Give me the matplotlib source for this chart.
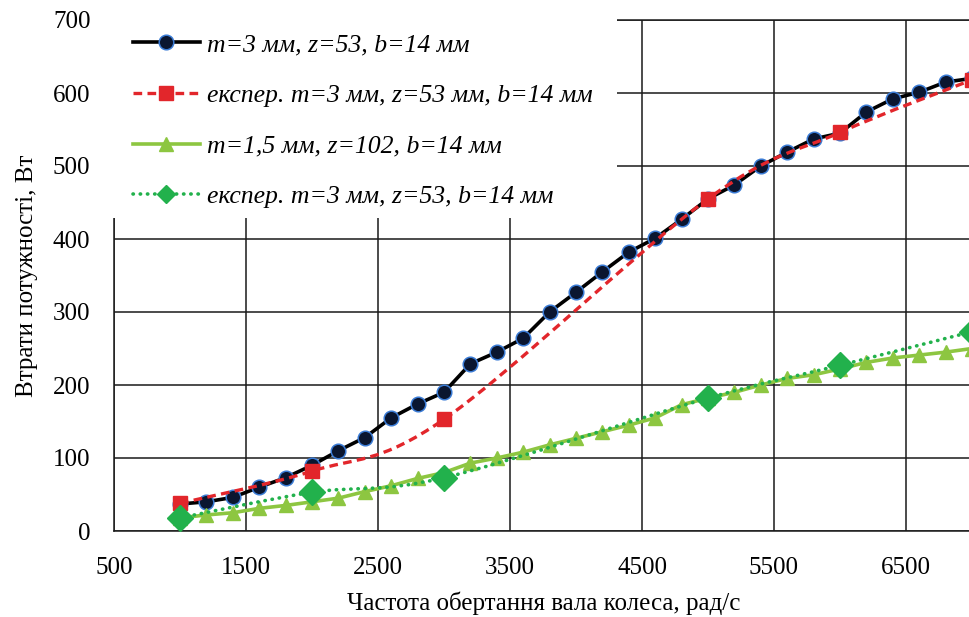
import matplotlib.pyplot as plt
import numpy as np
from matplotlib.path import Path
from matplotlib.patches import PathPatch, Rectangle
from matplotlib.lines import Line2D

plt.rcParams['font.family'] = ['Liberation Serif', 'DejaVu Serif']

# розрахунок, m=3 мм, z=53
calc_x = [1000, 1200, 1400, 1600, 1800, 2000, 2200, 2400, 2600, 2800, 3000,
          3200, 3400, 3600, 3800, 4000, 4200, 4400, 4600, 4800, 5000,
          5200, 5400, 5600, 5800, 6000, 6200, 6400, 6600, 6800, 7000]
calc_m3 = [37, 40, 46, 60, 73, 90, 110, 128, 155, 174, 190,
           229, 245, 264, 300, 327, 355, 382, 401, 427, 455,
           474, 500, 519, 537, 545, 574, 592, 601, 615, 620]
# розрахунок, m=1,5 мм, z=102
calc_m15 = [18, 22, 25, 31, 35, 40, 45, 54, 62, 72, 80,
            93, 100, 108, 118, 127, 136, 145, 155, 173, 182,
            190, 200, 209, 214, 222, 231, 237, 241, 245, 250]

# експеримент
exp_x = [1000, 2000, 3000, 5000, 6000, 7000]
exp_red = [38, 82, 153, 455, 546, 618]
exp_green = [18, 53, 73, 182, 227, 273]

labels = ['m=3 мм, z=53, b=14 мм',
          'експер. m=3 мм, z=53 мм, b=14 мм',
          'm=1,5 мм, z=102, b=14 мм',
          'експер. m=3 мм, z=53, b=14 мм']

RED = '#e2262b'
LIGHT_GREEN = '#8dc641'
GREEN = '#22b14c'


def smooth_path(xs, ys):
    # згладжена лінія як в Excel (кубічні криві Безьє)
    pts = np.column_stack([xs, ys]).astype(float)
    n = len(pts)
    verts = [pts[0]]
    codes = [Path.MOVETO]
    for i in range(n - 1):
        p0 = pts[max(i - 1, 0)]
        p1, p2 = pts[i], pts[i + 1]
        p3 = pts[min(i + 2, n - 1)]
        verts += [p1 + (p2 - p0) / 6, p2 - (p3 - p1) / 6, p2]
        codes += [Path.CURVE4] * 3
    return Path(verts, codes)


fig = plt.figure(figsize=(9.69, 6.17), dpi=100)
ax = fig.add_axes([114 / 969, 86 / 617, 924 / 969, 511 / 617])

ax.plot(calc_x, calc_m3, color='black', lw=2.6, marker='o', ms=10.5,
        mfc='#0a1630', mec='#3a7bd5', mew=1.1, zorder=3)

ax.add_patch(PathPatch(smooth_path(exp_x, exp_red), fill=False,
                       edgecolor=RED, lw=2.4, linestyle=(0, (2.6, 1.6)), zorder=3))
ax.plot(exp_x, exp_red, linestyle='none', marker='s', ms=10.5,
        color=RED, zorder=4)

ax.plot(calc_x, calc_m15, color=LIGHT_GREEN, lw=2.6, marker='^', ms=10.5,
        zorder=4)

ax.add_patch(PathPatch(smooth_path(exp_x, exp_green), fill=False,
                       edgecolor=GREEN, lw=2.6, linestyle=(0, (0.1, 1.9)),
                       capstyle='round', zorder=4))
ax.plot(exp_x, exp_green, linestyle='none', marker='D', ms=13.7,
        color=GREEN, zorder=5)

ax.set_xlim(500, 7500)
ax.set_ylim(0, 700)
ax.set_xticks(np.arange(500, 7000, 1000))
ax.set_yticks(np.arange(0, 701, 100))
ax.grid(True, color='#1a1a1a', lw=1.1)
ax.set_axisbelow(True)
ax.tick_params(length=0, labelsize=18)
ax.tick_params(axis='x', pad=19)
ax.tick_params(axis='y', pad=17)
ax.spines['right'].set_visible(False)
for side in ['left', 'bottom', 'top']:
    ax.spines[side].set_color('#1a1a1a')
    ax.spines[side].set_linewidth(1.1)

ax.set_xlabel('Частота обертання вала колеса, рад/с', fontsize=18)
ax.xaxis.set_label_coords(0.465, -0.119)
ax.set_ylabel('Втрати потужності, Вт', fontsize=18)
ax.yaxis.set_label_coords(-0.0823, 0.5)

# біле поле легенди
ax.add_patch(Rectangle((-0.008, 0.6125), 0.552, 0.41, transform=ax.transAxes,
                       facecolor='white', edgecolor='none', clip_on=False,
                       zorder=6))

handles = [
    Line2D([], [], color='black', lw=2.6, marker='o', ms=10.5,
           mfc='#0a1630', mec='#3a7bd5', mew=1.1),
    Line2D([], [], color=RED, lw=2.4, linestyle=(0, (2.6, 1.6)),
           marker='s', ms=10.5),
    Line2D([], [], color=LIGHT_GREEN, lw=2.6, marker='^', ms=10.5),
    Line2D([], [], color=GREEN, lw=2.6, linestyle=(0, (0.1, 1.9)),
           dash_capstyle='round', marker='D', ms=9.5),
]
leg = ax.legend(handles, labels, loc='upper left',
                bbox_to_anchor=(0.0206, 0.974), frameon=False,
                prop={'size': 18.5, 'style': 'italic'},
                handlelength=2.6, handletextpad=0.27, labelspacing=1.08,
                borderpad=0, borderaxespad=0)
leg.set_zorder(7)

fig.savefig('out.png', dpi=100)
